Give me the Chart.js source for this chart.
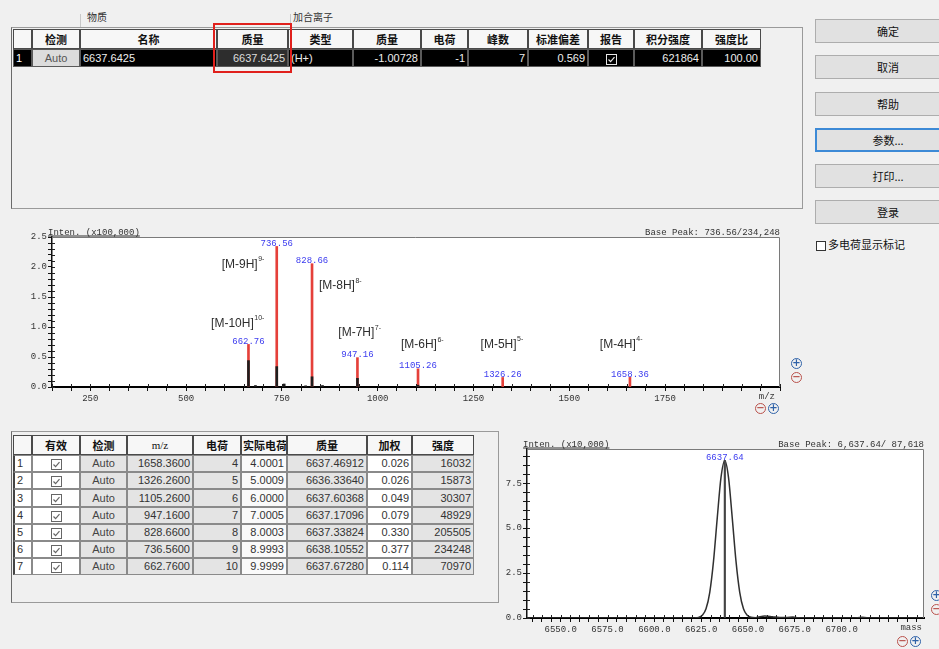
<!DOCTYPE html>
<html lang="zh-CN">
<head>
<meta charset="utf-8">
<title>解卷积结果</title>
<script src="https://cdn.jsdelivr.net/npm/chart.js@4.4.1/dist/chart.umd.min.js"></script>
<style>
html,body{margin:0;padding:0}
body{width:939px;height:649px;overflow:hidden;position:relative;background:#f0f0f0;
  font-family:"Liberation Sans","Noto Sans CJK SC",sans-serif;font-size:11px;color:#222}
.abs{position:absolute;box-sizing:border-box}
.cell{position:absolute;box-sizing:border-box;border:1px solid #8a8a8a;white-space:nowrap;overflow:hidden;padding:0 2px}
.hd{background:#f7f7f7;border-color:#4a4a4a;font-family:"Noto Sans CJK SC",sans-serif;font-weight:bold;text-align:center;color:#111}
.panel{position:absolute;box-sizing:border-box;border:1px solid #9a9a9a}
.btn{position:absolute;box-sizing:border-box;left:815px;width:146px;height:24px;background:#e1e1e1;border:1px solid #adadad;
  font-family:"Noto Sans CJK SC",sans-serif;font-size:11px;text-align:center;line-height:22px;color:#111}
.btn.focus{border:2px solid #3d8ad6;line-height:20px}
.zi{position:absolute;width:11px;height:11px;border:1.5px solid;border-radius:50%;box-sizing:border-box;
  font:bold 10px/8px "DejaVu Sans",sans-serif;text-align:center}
.grp{position:absolute;font-family:"Noto Sans CJK SC",sans-serif;font-size:10px;color:#333}
canvas{position:absolute}
</style>
</head>
<body>
<canvas id="spectrum" width="800" height="215" style="left:0;top:210px"></canvas>
<canvas id="deconv" width="439" height="219" style="left:500px;top:430px"></canvas>
<script>
// ---- 多电荷离子峰 (m/z 谱) ----
const peakMz = [1658.36, 1326.26, 1105.26, 947.16, 828.66, 736.56, 662.76];
const peakCharge = [4, 5, 6, 7, 8, 9, 10];
const peakActualCharge = ['4.0001', '5.0009', '6.0000', '7.0005', '8.0003', '8.9993', '9.9999'];
const peakMass = ['6637.46912', '6636.33640', '6637.60368', '6637.17096', '6637.33824', '6638.10552', '6637.67280'];
const peakWeight = ['0.026', '0.026', '0.049', '0.079', '0.330', '0.377', '0.114'];
const peakInten = [16032, 15873, 30307, 48929, 205505, 234248, 70970];

// ---- 原始谱图的质心棒 ----
const rawMz = [662.76, 681.0, 736.56, 756.0, 812.0, 828.66, 856.0, 947.16, 1105.26];
const rawInten = [44000, 2500, 34000, 5000, 2000, 17000, 2500, 14500, 3000];

// ---- 解卷积后的质量谱 ----
const deconvMass = [6532, 6618, 6621.6, 6623.6, 6625.6, 6627.6, 6629.6, 6631.6, 6633.6, 6635.6, 6637.64, 6639.6,
  6641.6, 6643.6, 6645.6, 6647.6, 6649.6, 6651.6, 6654, 6659, 6663, 6667, 6671, 6674, 6677, 6690, 6706, 6711, 6716, 6744];
const deconvInten = [0, 0, 70, 340, 1500, 5100, 14300, 31600, 55700, 78200, 87618, 78200,
  55700, 31600, 14300, 5100, 1500, 400, 200, 1100, 700, 250, 300, 500, 100, 0, 0, 400, 0, 0];
const basePeakMass = 6637.64;
const basePeakInten = 87618;

// ---- 物质 / 加合离子汇总 ----
const compoundName = '6637.6425';
const compoundMass = 6637.6425;
const adductType = '(H+)';
const adductMass = -1.00728;
const adductCharge = -1;
const massStdDev = 0.569;
const intenRatio = 100.00;

// ---- 表格与按钮的版面 ----
const topCols = [13, 32, 80, 217, 288, 353, 421, 468, 528, 588, 634, 702, 761];
const topRows = [29, 49, 67];
const botCols = [13, 32, 80, 127, 193, 241, 287, 367, 412, 474];
const botRowTop = 435, botHeadH = 20, botRowH = 17.2;
const buttonLabels = ['确定', '取消', '帮助', '参数...', '打印...', '登录'];
const buttonTops = [19, 55, 92, 128, 164, 200];

function el(tag, cls, style, html) {
  const d = document.createElement(tag);
  if (cls) d.className = cls;
  Object.assign(d.style, style || {});
  if (html !== undefined) d.innerHTML = html;
  document.body.appendChild(d);
  return d;
}
function addCell(x1, y1, x2, y2, html, cls, style) {
  const h = y2 - y1;
  return el('div', 'cell' + (cls ? ' ' + cls : ''), Object.assign({
    left: x1 + 'px', top: y1 + 'px', width: (x2 - x1) + 'px', height: h + 'px', lineHeight: (h - 2) + 'px'
  }, style || {}), html);
}
function checkBox(stroke) {
  return '<svg width="11" height="11" viewBox="0 0 11 11" style="vertical-align:middle">' +
    '<rect x="0.5" y="0.5" width="10" height="10" fill="none" stroke="' + stroke + '"/>' +
    '<polyline points="2.5,5.5 4.6,7.6 8.5,3.2" fill="none" stroke="' + stroke + '" stroke-width="1.2"/></svg>';
}
const fmt = (v, d) => v.toFixed(d);

// ---- 上部：物质表 ----
el('div', 'panel', {left: '11px', top: '27px', width: '792px', height: '182px', borderLeftColor: '#6a6a6a'});
el('div', 'grp', {left: '87px', top: '9px'}, '物质');
el('div', 'grp', {left: '293px', top: '9px'}, '加合离子');
el('div', 'abs', {left: '80px', top: '14px', width: '1px', height: '13px', background: '#c8c8c8'});
el('div', 'abs', {left: '290px', top: '14px', width: '1px', height: '13px', background: '#c8c8c8'});

const topHeaders = ['', '检测', '名称', '质量', '类型', '质量', '电荷', '峰数', '标准偏差', '报告', '积分强度', '强度比'];
topHeaders.forEach((t, i) => addCell(topCols[i], topRows[0], topCols[i + 1], topRows[1], t, 'hd'));

const totalInten = peakInten.reduce((a, b) => a + b, 0);
const topValues = [
  ['1', {background: '#000', color: '#fff', textAlign: 'left'}],
  ['Auto', {background: '#dcdcdc', color: '#555', textAlign: 'center'}],
  [compoundName, {background: '#000', color: '#eee', textAlign: 'left'}],
  [fmt(compoundMass, 4), {background: '#2d2d2d', color: '#ddd', textAlign: 'right'}],
  [adductType, {background: '#000', color: '#eee', textAlign: 'left'}],
  [fmt(adductMass, 5), {background: '#000', color: '#eee', textAlign: 'right'}],
  [String(adductCharge), {background: '#000', color: '#eee', textAlign: 'right'}],
  [String(peakMz.length), {background: '#000', color: '#eee', textAlign: 'right'}],
  [fmt(massStdDev, 3), {background: '#000', color: '#eee', textAlign: 'right'}],
  [checkBox('#e8e8e8'), {background: '#000', textAlign: 'center'}],
  [String(totalInten), {background: '#000', color: '#eee', textAlign: 'right'}],
  [fmt(intenRatio, 2), {background: '#000', color: '#eee', textAlign: 'right'}]
];
topValues.forEach((v, i) => addCell(topCols[i], topRows[1], topCols[i + 1], topRows[2], v[0], '',
  Object.assign({borderColor: '#5a5a5a'}, v[1])));
el('div', 'abs', {left: '213px', top: '23px', width: '79px', height: '50px', border: '2px solid #e0201c'});

// ---- 右侧按钮 ----
buttonLabels.forEach((t, i) => el('div', 'btn' + (i === 3 ? ' focus' : ''), {top: buttonTops[i] + 'px'}, t));
el('div', 'abs', {left: '816px', top: '241px', width: '10px', height: '10px', border: '1px solid #333', background: '#fff'});
el('div', 'abs', {left: '828px', top: '236px', fontFamily: '"Noto Sans CJK SC",sans-serif', fontSize: '11px', color: '#111'}, '多电荷显示标记');

// ---- 左下：离子峰表 ----
el('div', 'panel', {left: '11px', top: '431px', width: '488px', height: '172px', borderLeftColor: '#6a6a6a'});
const botHeaders = ['', '有效', '检测', 'm/z', '电荷', '实际电荷', '质量', '加权', '强度'];
botHeaders.forEach((t, i) => addCell(botCols[i], botRowTop, botCols[i + 1], botRowTop + botHeadH, t, 'hd',
  i === 3 ? {fontWeight: 'normal', fontFamily: '"Liberation Serif",serif'} : (i === 5 ? {textAlign: 'left', padding: '0 0 0 1px'} : {})));
peakMz.forEach((mz, r) => {
  const y1 = Math.round(botRowTop + botHeadH + r * botRowH), y2 = Math.round(botRowTop + botHeadH + (r + 1) * botRowH);
  const gray = {background: '#e4e4e4', textAlign: 'right'};
  const cells = [
    [String(r + 1), {background: '#fff', textAlign: 'left', borderLeft: '2px solid #444'}],
    [checkBox('#666'), {background: '#fff', textAlign: 'center'}],
    ['Auto', {background: '#e4e4e4', textAlign: 'center', color: '#444'}],
    [fmt(mz, 4), gray],
    [String(peakCharge[r]), gray],
    [peakActualCharge[r], {background: '#fafafa', textAlign: 'right'}],
    [peakMass[r], gray],
    [peakWeight[r], {background: '#fff', textAlign: 'right'}],
    [String(peakInten[r]), gray]
  ];
  cells.forEach((c, i) => addCell(botCols[i], y1, botCols[i + 1], y2, c[0], '', Object.assign({color: '#333'}, c[1])));
});

// ---- 缩放图标 ----
function zoomIcon(x, y, plus) {
  el('div', 'zi', {left: x + 'px', top: y + 'px', color: plus ? '#2f62a8' : '#b8504a', borderColor: plus ? '#2f62a8' : '#b8504a'}, plus ? '+' : '−');
}
zoomIcon(791, 358, true); zoomIcon(791, 372, false);
zoomIcon(755, 403, false); zoomIcon(768, 403, true);
zoomIcon(931, 590, true); zoomIcon(931, 604, false);
zoomIcon(897, 636, false); zoomIcon(910, 636, true);

// ---- Chart.js 公共设置 ----
Chart.defaults.font.family = '"Liberation Mono", "DejaVu Sans Mono", monospace';
Chart.defaults.font.size = 9;
Chart.defaults.color = '#333';

const MONO = '9px "Liberation Mono", monospace';

// 绘图区白底、灰色外框以及标题文字
const plotFrame = {
  id: 'plotFrame',
  beforeDraw(chart) {
    const {ctx, chartArea: a} = chart;
    ctx.save();
    ctx.fillStyle = '#fff';
    ctx.fillRect(a.left, a.top, a.right - a.left, a.bottom - a.top);
    ctx.restore();
  },
  afterDraw(chart, args, opts) {
    const {ctx, chartArea: a} = chart;
    ctx.save();
    ctx.strokeStyle = '#7a7a7a';
    ctx.lineWidth = 1;
    ctx.beginPath();
    ctx.moveTo(a.left, a.top + 0.5);
    ctx.lineTo(a.right - 0.5, a.top + 0.5);
    ctx.lineTo(a.right - 0.5, a.bottom);
    ctx.stroke();
    ctx.font = MONO;
    ctx.fillStyle = '#333';
    ctx.textBaseline = 'alphabetic';
    ctx.textAlign = 'left';
    const lx = a.left - 4, ly = a.top - 2.5;
    ctx.fillText(opts.leftText, lx, ly);
    const w = ctx.measureText(opts.leftText).width;
    ctx.fillRect(lx, ly + 1, w, 1);
    ctx.textAlign = 'right';
    ctx.fillText(opts.rightText, a.right, ly);
    ctx.textBaseline = 'middle';
    ctx.fillText(opts.axisName, a.right - opts.axisNameInset, a.bottom + 10);
    ctx.restore();
  }
};

// 坐标轴内侧的短刻度
const innerTicks = {
  id: 'innerTicks',
  afterDatasetsDraw(chart) {
    const {ctx, chartArea: a, scales: {x, y}} = chart;
    ctx.save();
    ctx.strokeStyle = '#222';
    ctx.lineWidth = 1;
    ctx.beginPath();
    x.ticks.forEach(t => {
      const px = Math.round(x.getPixelForValue(t.value)) + 0.5;
      ctx.moveTo(px, a.bottom);
      ctx.lineTo(px, a.bottom - 3);
    });
    y.ticks.forEach(t => {
      const py = Math.round(y.getPixelForValue(t.value)) + 0.5;
      ctx.moveTo(a.left, py);
      ctx.lineTo(a.left + 3, py);
    });
    ctx.stroke();
    ctx.restore();
  }
};

// 峰顶的 m/z 数值标注和离子标注
const peakLabels = {
  id: 'peakLabels',
  afterDatasetsDraw(chart, args, opts) {
    const meta = chart.getDatasetMeta(opts.datasetIndex);
    const ctx = chart.ctx;
    ctx.save();
    ctx.font = MONO;
    ctx.fillStyle = '#3b3bef';
    ctx.textAlign = 'center';
    ctx.textBaseline = 'middle';
    meta.data.forEach((p, i) => ctx.fillText(opts.labels[i], p.x, p.y - 3));
    (opts.ions || []).forEach((ion, i) => {
      const p = meta.data[i];
      const cx = p.x + ion.dx, cy = p.y + ion.dy;
      ctx.font = '12px "Liberation Sans", sans-serif';
      const w1 = ctx.measureText(ion.base).width;
      ctx.font = '7px "Liberation Sans", sans-serif';
      const w2 = ctx.measureText(ion.sup).width;
      const x0 = cx - (w1 + w2) / 2;
      ctx.fillStyle = '#2e2e2e';
      ctx.textAlign = 'left';
      ctx.font = '12px "Liberation Sans", sans-serif';
      ctx.fillText(ion.base, x0, cy);
      ctx.font = '7px "Liberation Sans", sans-serif';
      ctx.fillText(ion.sup, x0 + w1 + 0.5, cy - 5);
    });
    ctx.restore();
  }
};

function stepTicks(from, to, step) {
  return scale => {
    const t = [];
    for (let k = 0; from + k * step <= to + 1e-9; k++) t.push({value: +(from + k * step).toFixed(4)});
    scale.ticks = t;
  };
}
const tickGrid = {drawOnChartArea: false, drawTicks: true, tickLength: 4, tickColor: '#111', tickWidth: 1, offset: false};

// ---- m/z 谱图 ----
const baseIdx = peakInten.indexOf(Math.max(...peakInten));
const ionOffsets = [
  {dx: -9, dy: -33}, {dx: -1, dy: -33}, {dx: 4, dy: -24}, {dx: 2, dy: -25},
  {dx: 28, dy: 22}, {dx: -34, dy: 18}, {dx: -11, dy: -21}
];
new Chart(document.getElementById('spectrum'), {
  type: 'bar',
  data: {
    datasets: [
      {
        label: '离子峰',
        data: peakMz.map((m, i) => ({x: m, y: peakInten[i] / 1e5})),
        backgroundColor: '#e5403a',
        barThickness: 2,
        order: 2
      },
      {
        label: '原始峰',
        data: rawMz.map((m, i) => ({x: m, y: rawInten[i] / 1e5})),
        backgroundColor: '#1e1e1e',
        barThickness: 2,
        order: 1
      }
    ]
  },
  options: {
    responsive: false, animation: false, devicePixelRatio: 1, events: [],
    datasets: {bar: {grouped: false}},
    layout: {padding: {top: 27, right: 20, left: 0, bottom: 0}},
    plugins: {
      legend: {display: false}, tooltip: {enabled: false},
      plotFrame: {
        leftText: 'Inten. (x100,000)',
        rightText: 'Base Peak: ' + peakMz[baseIdx].toFixed(2) + '/' + peakInten[baseIdx].toLocaleString('en-US'),
        axisName: 'm/z', axisNameInset: 5
      },
      peakLabels: {
        datasetIndex: 0,
        labels: peakMz.map(v => v.toFixed(2)),
        ions: peakCharge.map((z, i) => ({base: '[M-' + z + 'H]', sup: z + '-', dx: ionOffsets[i].dx, dy: ionOffsets[i].dy}))
      }
    },
    scales: {
      x: {
        type: 'linear', min: 150, max: 2050, offset: false,
        grid: tickGrid,
        border: {color: '#000', width: 2},
        afterBuildTicks: stepTicks(150, 2050, 50),
        afterFit: s => { s.height = 38; },
        ticks: {autoSkip: false, maxRotation: 0, padding: 2,
          callback: v => (v % 250 === 0 && v >= 250 && v <= 1750) ? String(v) : ''}
      },
      y: {
        min: 0, max: 2.5,
        grid: tickGrid,
        border: {color: '#111', width: 1.5},
        afterBuildTicks: stepTicks(0, 2.5, 0.1),
        afterFit: s => { s.width = 52; },
        ticks: {autoSkip: false, padding: 1,
          callback: v => (Math.round(v * 10) % 5 === 0) ? v.toFixed(1) : ''}
      }
    }
  },
  plugins: [plotFrame, innerTicks, peakLabels]
});

// ---- 解卷积质量谱 ----
new Chart(document.getElementById('deconv'), {
  type: 'line',
  data: {
    datasets: [
      {
        type: 'line',
        label: '质量谱',
        data: deconvMass.map((m, i) => ({x: m, y: deconvInten[i] / 1e4})),
        borderColor: '#303030',
        borderWidth: 1.5,
        pointRadius: 0,
        cubicInterpolationMode: 'monotone',
        order: 2
      },
      {
        type: 'bar',
        label: '峰位',
        data: [{x: basePeakMass, y: basePeakInten / 1e4}],
        backgroundColor: '#444',
        barThickness: 1.5,
        grouped: false,
        order: 1
      }
    ]
  },
  options: {
    responsive: false, animation: false, devicePixelRatio: 1, events: [],
    layout: {padding: {top: 19, right: 15, left: 0, bottom: 0}},
    plugins: {
      legend: {display: false}, tooltip: {enabled: false},
      plotFrame: {
        leftText: 'Inten. (x10,000)',
        rightText: 'Base Peak: ' + basePeakMass.toLocaleString('en-US', {minimumFractionDigits: 2}) + '/ ' + basePeakInten.toLocaleString('en-US'),
        axisName: 'mass', axisNameInset: 2
      },
      peakLabels: {datasetIndex: 1, labels: [basePeakMass.toFixed(2)]}
    },
    scales: {
      x: {
        type: 'linear', min: 6532, max: 6744, offset: false,
        grid: tickGrid,
        border: {color: '#000', width: 2},
        afterBuildTicks: stepTicks(6535, 6740, 5),
        afterFit: s => { s.height = 31; },
        ticks: {autoSkip: false, maxRotation: 0, padding: 2,
          callback: v => (v >= 6550 && v <= 6700 && (v - 6550) % 25 === 0) ? v.toFixed(1) : ''}
      },
      y: {
        min: 0, max: 9.4,
        grid: tickGrid,
        border: {color: '#111', width: 1.5},
        afterBuildTicks: stepTicks(0, 9, 0.5),
        afterFit: s => { s.width = 27; },
        ticks: {autoSkip: false, padding: 1,
          callback: v => (Math.round(v * 2) % 5 === 0) ? v.toFixed(1) : ''}
      }
    }
  },
  plugins: [plotFrame, innerTicks, peakLabels]
});
</script>
</body>
</html>
